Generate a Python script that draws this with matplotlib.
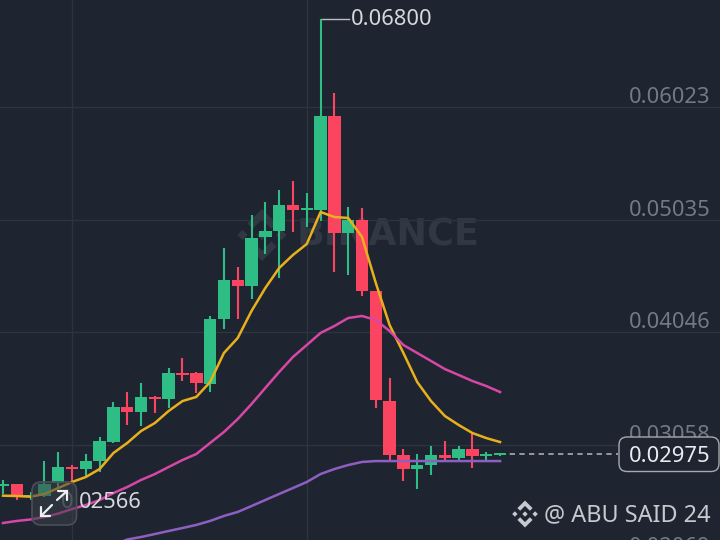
import matplotlib
matplotlib.use("Agg")
import matplotlib.pyplot as plt
import numpy as np
from matplotlib.patches import FancyBboxPatch, Polygon

plt.rcParams["font.family"] = ["Noto Sans", "DejaVu Sans"]

BG = "#1f2530"
GRID = "#2e343e"
UP = "#2ebd85"
DOWN = "#fb4560"
MA7_COLOR = "#e9b01e"
MA25_COLOR = "#d846a6"
MA99_COLOR = "#8e5fc2"
WATERMARK = "#323843"

opens = [0.02695, 0.02712, 0.02598, 0.02607, 0.02721, 0.02862, 0.02844, 0.02914, 0.03081, 0.03389,
         0.03345, 0.03477, 0.03459, 0.03687, 0.03687, 0.03591, 0.04161, 0.04504, 0.04451, 0.04882,
         0.04934, 0.05163, 0.05119, 0.05119, 0.05944, 0.04917, 0.05031, 0.04407, 0.03441, 0.02967,
         0.02844, 0.02879, 0.02967, 0.02941, 0.03020, 0.02958, 0.02967]
highs = [0.02747, 0.02715, 0.02642, 0.02914, 0.02993, 0.02879, 0.02976, 0.03125, 0.03433, 0.03520,
         0.03599, 0.03485, 0.03731, 0.03819, 0.03696, 0.04188, 0.04785, 0.04618, 0.05075, 0.05189,
         0.05294, 0.05373, 0.05268, 0.06800, 0.06146, 0.05145, 0.05136, 0.04407, 0.03643, 0.03020,
         0.02976, 0.03046, 0.03090, 0.03046, 0.03160, 0.02993, 0.02985]
lows = [0.02625, 0.02572, 0.02572, 0.02598, 0.02686, 0.02730, 0.02783, 0.02818, 0.03073, 0.03231,
        0.03222, 0.03336, 0.03380, 0.03617, 0.03512, 0.03520, 0.04074, 0.04161, 0.04337, 0.04732,
        0.04522, 0.04926, 0.04969, 0.05022, 0.04574, 0.04548, 0.04363, 0.03380, 0.02906, 0.02739,
        0.02669, 0.02792, 0.02906, 0.02923, 0.02853, 0.02914, 0.02958]
closes = [0.02712, 0.02607, 0.02616, 0.02712, 0.02862, 0.02844, 0.02914, 0.03090, 0.03389, 0.03345,
          0.03477, 0.03459, 0.03687, 0.03670, 0.03599, 0.04161, 0.04504, 0.04451, 0.04873, 0.04934,
          0.05163, 0.05119, 0.05128, 0.05944, 0.04917, 0.05031, 0.04407, 0.03450, 0.02967, 0.02844,
          0.02879, 0.02967, 0.02941, 0.03020, 0.02958, 0.02967, 0.02975]

ma7 = [0.02610, 0.02607, 0.02601, 0.02625, 0.02677, 0.02730, 0.02774, 0.02844, 0.02985, 0.03073,
       0.03178, 0.03248, 0.03354, 0.03441, 0.03477, 0.03608, 0.03863, 0.03995, 0.04232, 0.04434,
       0.04609, 0.04724, 0.04820, 0.05101, 0.05057, 0.05049, 0.04882, 0.04478, 0.04109, 0.03863,
       0.03608, 0.03441, 0.03310, 0.03231, 0.03160, 0.03116, 0.03081]
ma25 = [0.02370, 0.02388, 0.02401, 0.02423, 0.02453, 0.02493, 0.02528, 0.02572, 0.02633, 0.02686,
        0.02748, 0.02800, 0.02862, 0.02923, 0.02976, 0.03073, 0.03169, 0.03283, 0.03415, 0.03556,
        0.03696, 0.03828, 0.03933, 0.04039, 0.04100, 0.04170, 0.04188, 0.04153, 0.04056, 0.03933,
        0.03863, 0.03793, 0.03722, 0.03670, 0.03617, 0.03573, 0.03520]
# the slow average only enters the frame from candle 8 on
ma99 = [0.02177, 0.02225, 0.02247, 0.02273, 0.02300, 0.02326, 0.02353, 0.02388, 0.02432, 0.02467,
        0.02519, 0.02572, 0.02625, 0.02677, 0.02730, 0.02800, 0.02844, 0.02879, 0.02906, 0.02914,
        0.02914, 0.02914, 0.02914, 0.02914, 0.02914, 0.02914, 0.02914, 0.02914, 0.02914]

grid_prices = [0.06023, 0.05035, 0.04046, 0.03058, 0.02069]
grid_labels = ["0.06023", "0.05035", "0.04046", "0.03058", "0.02069"]
last_price = 0.02975
last_label = "0.02975"
peak_price = 0.06800
peak_label = "0.06800"
low_label = "02566"


def draw_logo(ax, cx, cy, r, color, alpha=1.0, zorder=6):
    # binance mark: centre and side diamonds plus two chevrons
    def diamond(x, y, s):
        ax.add_patch(Polygon([(x, y - s), (x + s, y), (x, y + s), (x - s, y)], color=color,
                             alpha=alpha, lw=0, zorder=zorder))
    diamond(cx, cy, r * 0.2)
    diamond(cx - r * 0.75, cy, r * 0.2)
    diamond(cx + r * 0.75, cy, r * 0.2)
    for sign in (-1, 1):
        pts = [(cx, cy + sign * r), (cx + r * 0.56, cy + sign * r * 0.44),
               (cx + r * 0.36, cy + sign * r * 0.24), (cx, cy + sign * r * 0.6),
               (cx - r * 0.36, cy + sign * r * 0.24), (cx - r * 0.56, cy + sign * r * 0.44)]
        ax.add_patch(Polygon(pts, color=color, alpha=alpha, lw=0, zorder=zorder))


def draw_arrow(ax, x0, y0, x1, y1, head=9):
    ax.plot([x0, x1], [y0, y1], color="#eceef1", lw=1.6, zorder=5, solid_capstyle="round")
    dx = 1 if x1 > x0 else -1
    dy = 1 if y1 > y0 else -1
    ax.plot([x1 - dx * head, x1, x1], [y1, y1, y1 - dy * head], color="#eceef1", lw=1.6, zorder=5,
            solid_capstyle="round", solid_joinstyle="miter")


fig = plt.figure(figsize=(7.2, 5.4), dpi=100, facecolor=BG)

# watermark sits under everything, so it gets its own pixel axes
under = fig.add_axes([0, 0, 1, 1], facecolor=BG)
under.set_xlim(0, 720)
under.set_ylim(540, 0)
under.axis("off")
under.set_zorder(0)

ax = fig.add_axes([0, 0, 1, 1], facecolor="none")
ax.set_xlim(-0.217, 51.93)
# 540 px tall frame, 8.782e-5 price units per px
ax.set_ylim(0.06963 - 540 * 8.782e-5, 0.06963)
ax.axis("off")
ax.set_zorder(1)

# pixel overlay for the furniture that is not tied to the price scale
over = fig.add_axes([0, 0, 1, 1], facecolor="none")
over.set_xlim(0, 720)
over.set_ylim(540, 0)
over.axis("off")
over.set_zorder(2)

x = np.arange(len(opens))
for p in grid_prices:
    ax.axhline(p, color=GRID, lw=1, zorder=1)
for i in (5, 22):
    ax.axvline(i, color=GRID, lw=1, zorder=1)

under.text(297, 235, "BINANCE", fontsize=26.3, family="DejaVu Sans", fontweight="bold", color=WATERMARK,
           va="center", ha="left")
draw_logo(under, 262, 235, 26, WATERMARK, zorder=1)

colors = [UP if c >= o else DOWN for o, c in zip(opens, closes)]
ax.vlines(x, lows, highs, colors=colors, lw=1.5, zorder=3)
bottoms = np.minimum(opens, closes)
heights = np.maximum(np.abs(np.subtract(closes, opens)), 0.00016)
ax.bar(x, heights, bottom=bottoms, width=0.9, color=colors, lw=0, zorder=3)

ax.plot(x, ma7, color=MA7_COLOR, lw=1.8, zorder=4)
ax.plot(x, ma25, color=MA25_COLOR, lw=1.8, zorder=4)
ax.plot(x[8:], ma99, color=MA99_COLOR, lw=1.8, zorder=4)

ax.plot([x[-1], 44.55], [last_price, last_price], color="#a8adb5", lw=1.2, ls=(0, (3.2, 2.6)), zorder=2)

# peak marker with its leader
ax.plot([23, 23, 25.05], [highs[23], peak_price, peak_price], color="#b9bdc4", lw=1, zorder=2.5)
ax.annotate(peak_label, (25.05, peak_price), xytext=(1.5, -1), textcoords="offset points", fontsize=15.8,
            color="#d5d8dc", va="center", ha="left", zorder=5)

for p, lab in zip(grid_prices, grid_labels):
    ax.annotate(lab, (1, p), xycoords=("axes fraction", "data"), xytext=(-7, 6.8), textcoords="offset points",
                fontsize=15.8, color="#747a85", va="center", ha="right", zorder=2, annotation_clip=False)

# last price tag
over.add_patch(FancyBboxPatch((619, 437), 100, 34.5, boxstyle="round,pad=0,rounding_size=8", fc=BG,
                              ec="#a5a9b0", lw=1, zorder=5))
over.text(710, 456, last_label, fontsize=15.8, color="#eaecef", ha="right", va="center", zorder=6)

# low label under the zoom button
over.text(79, 502.5, low_label, fontsize=15.8, color="#d5d8dc", ha="left", va="center", zorder=3)
over.text(61, 502.5, "0", fontsize=15.8, color="#6f7580", ha="left", va="center", zorder=3)
over.add_patch(FancyBboxPatch((32, 482), 44.5, 43, boxstyle="round,pad=0,rounding_size=9", fc="#3a3f49",
                              ec="none", alpha=0.55, zorder=4))
over.add_patch(FancyBboxPatch((32, 482), 44.5, 43, boxstyle="round,pad=0,rounding_size=9", fc="none",
                              ec="#4a4f58", lw=1.2, zorder=4))
draw_arrow(over, 57, 500, 67, 491)
draw_arrow(over, 52, 505, 41, 516)

# footer credit
draw_logo(over, 525, 514, 13.5, "#c6c9ce")
over.text(711, 515, "@ ABU SAID 24", fontsize=16.9, color="#c6c9ce", ha="right", va="center", zorder=6)

fig.savefig("out.png", dpi=100, facecolor=BG)
